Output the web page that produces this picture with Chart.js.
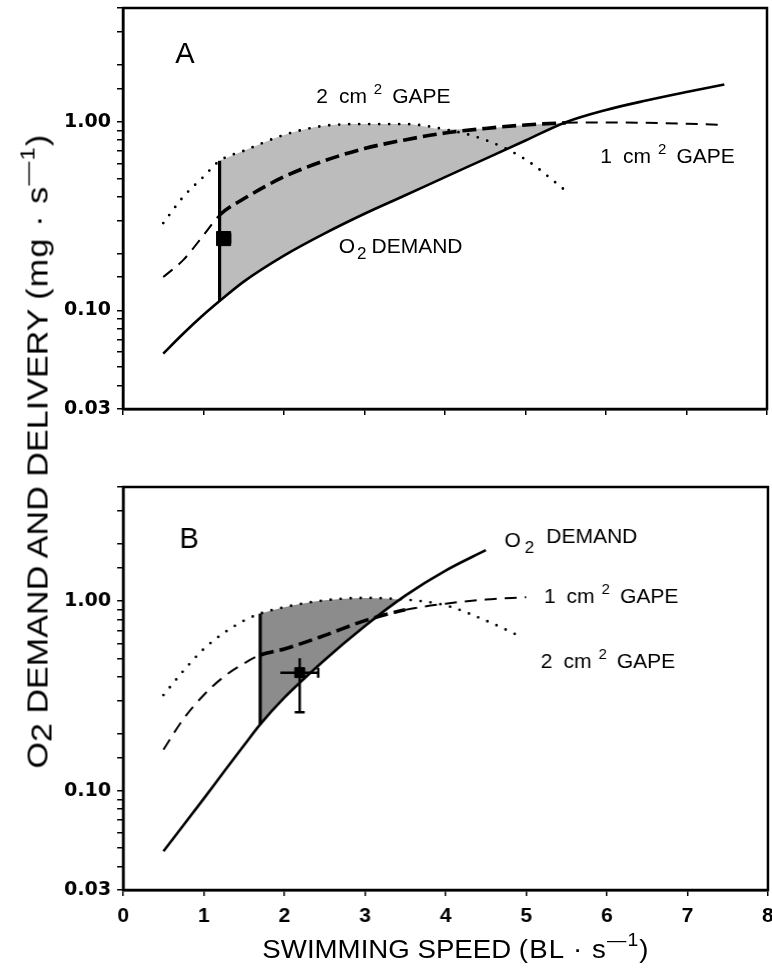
<!DOCTYPE html>
<html>
<head>
<meta charset="utf-8">
<script src="https://cdn.jsdelivr.net/npm/chart.js@4.4.0/dist/chart.umd.min.js"></script>
<style>
  body { margin: 0; background: #fff; width: 772px; height: 969px; position: relative; overflow: hidden;
         font-family: "Liberation Sans", Arial, sans-serif; color: #000; }
  .box { position: absolute; left: 0; }
  .title { position: absolute; white-space: nowrap; line-height: 1; transform-origin: 50% 50%; }
  .title sup { font-size: 70%; vertical-align: 0.65em; line-height: 0; }
  .title sub { font-size: 100%; vertical-align: -0.15em; line-height: 0; }
  .par { letter-spacing: 1px; }
  #ytitle { left: 38px; top: 451px; font-size: 29px; }
  #xtitle { left: 456px; top: 949px; font-size: 25px; }
</style>
</head>
<body>
<div id="boxA" class="box" style="top:0px; width:772px; height:440px"><canvas id="chartA"></canvas></div>
<div id="boxB" class="box" style="top:440px; width:772px; height:529px"><canvas id="chartB"></canvas></div>
<div id="ytitle" class="title">O<sub>2</sub> DEMAND AND DELIVERY <span class="par">(mg &middot; s<sup>&#8212;1</sup>)</span></div>
<div id="xtitle" class="title">SWIMMING SPEED <span class="par">(BL &middot; s<sup>&#8212;1</sup>)</span></div>
<script>
// panel A (swimming speed in BL/s, O2 in mg/s)
const speedA  = [0.5, 0.75, 1.0, 1.2, 1.5, 2.0, 2.5, 3.0, 3.5, 4.0, 4.5, 5.0, 5.5, 6.0, 6.5, 7.0, 7.47];
const demandA = [0.059, 0.0754, 0.0947, 0.112, 0.142, 0.195, 0.255, 0.325, 0.406, 0.508, 0.635, 0.794, 0.993, 1.153, 1.294, 1.435, 1.574];
const gape1A  = [0.15, 0.185, 0.25, 0.32, 0.39, 0.51, 0.62, 0.72, 0.80, 0.87, 0.92, 0.96, 0.985, 0.99, 0.985, 0.975, 0.96];
const gape2A  = [0.29, 0.40, 0.51, 0.62, 0.70, 0.85, 0.95, 0.97, 0.97, 0.91, 0.80, 0.63, 0.43, null, null, null, null];
const shadeA  = [1.2, 5.5];
const pointA  = [1.25, 0.24];
const errA    = [1.17, 1.33, 0.225, 0.26];

// panel B
const speedB  = [0.5, 0.75, 1.0, 1.25, 1.5, 1.7, 2.0, 2.5, 3.0, 3.5, 4.0, 4.5, 4.9, 5.0];
const demandB = [0.048, 0.066, 0.091, 0.126, 0.174, 0.224, 0.31, 0.49, 0.74, 1.07, 1.45, 1.86, null, null];
const gape1B  = [0.165, 0.24, 0.32, 0.40, 0.47, 0.52, 0.56, 0.66, 0.79, 0.90, 0.97, 1.02, 1.045, 1.05];
const gape2B  = [0.32, 0.43, 0.56, 0.68, 0.79, 0.86, 0.93, 1.01, 1.04, 1.02, 0.95, 0.79, 0.66, null];
const shadeB  = [1.7, 3.5];
const pointB  = [2.19, 0.42];
const errB    = [1.95, 2.42, 0.26, 0.5];

const yTickVals = [0.03, 0.1, 1];
const yTickText = ['0.03', '0.10', '1.00'];
const xMin = 0, xMax = 8, yMin = 0.03, yMax = 4;

function pts(xs, ys) {
  return xs.map((x, i) => ({x: x, y: ys[i]})).filter(p => p.y !== null);
}

// box round the plot area
const framePlugin = {
  id: 'frame',
  afterDraw(chart) {
    const a = chart.chartArea, ctx = chart.ctx;
    ctx.save();
    ctx.strokeStyle = '#000';
    ctx.lineWidth = 2.5;
    ctx.strokeRect(a.left, a.top, a.right - a.left, a.bottom - a.top);
    ctx.restore();
  }
};

// in-plot labels; a part is [text, kind] or [px, 'gap']
const notesPlugin = {
  id: 'notes',
  afterDatasetsDraw(chart, args, opts) {
    const ctx = chart.ctx, xs = chart.scales.x, ys = chart.scales.y;
    ctx.save();
    ctx.fillStyle = '#000';
    ctx.textBaseline = 'alphabetic';
    opts.items.forEach(n => {
      let px = xs.getPixelForValue(n.at[0]);
      const py = ys.getPixelForValue(n.at[1]);
      n.parts.forEach(([t, kind]) => {
        if (kind === 'gap') { px += t; return; }
        const size = kind === 'sup' ? 15 : kind === 'sub' ? 17 : n.size;
        const dy = kind === 'sup' ? -9 : kind === 'sub' ? 6 : kind === 'up' ? -4 : 0;
        ctx.font = size + 'px "Liberation Sans", Arial, sans-serif';
        ctx.fillText(t, px, py + dy);
        px += ctx.measureText(t).width;
      });
    });
    ctx.restore();
  }
};

const errPlugin = {
  id: 'errbars',
  afterDatasetsDraw(chart, args, opts) {
    const ctx = chart.ctx, xs = chart.scales.x, ys = chart.scales.y;
    const [x, y] = opts.point, [xl, xh, yl, yh] = opts.err;
    const px = xs.getPixelForValue(x), py = ys.getPixelForValue(y);
    ctx.save();
    ctx.strokeStyle = '#000';
    ctx.lineWidth = 2.5;
    ctx.beginPath();
    ctx.moveTo(px, ys.getPixelForValue(yl)); ctx.lineTo(px, ys.getPixelForValue(yh));
    ctx.moveTo(xs.getPixelForValue(xl), py); ctx.lineTo(xs.getPixelForValue(xh), py);
    ctx.moveTo(px - 5, ys.getPixelForValue(yl)); ctx.lineTo(px + 5, ys.getPixelForValue(yl));
    ctx.moveTo(xs.getPixelForValue(xh), py - 5); ctx.lineTo(xs.getPixelForValue(xh), py + 5);
    ctx.stroke();
    ctx.restore();
  }
};

function makePanel(id, p) {
  const lo = p.shade[0], hi = p.shade[1];
  const i0 = p.speed.indexOf(lo);
  const topEdge = p.speed.map((x, i) => ({x: x, y: Math.max(p.gape1[i] ?? 0, p.gape2[i] ?? 0)}))
    .filter(q => q.x >= lo && q.x <= hi);
  const bottomEdge = pts(p.speed, p.demand).filter(q => q.x >= lo && q.x <= hi);
  const inShade = c => c.p0.parsed.x >= lo && c.p0.parsed.x < hi;

  return new Chart(document.getElementById(id), {
    type: 'line',
    data: {
      datasets: [
        { label: 'O2 demand', data: pts(p.speed, p.demand), borderColor: '#000', borderWidth: 2.6,
          pointRadius: 0, cubicInterpolationMode: 'monotone' },
        { label: '1 cm2 gape', data: pts(p.speed, p.gape1), borderColor: '#000', borderWidth: 1.8,
          borderDash: [11, 8], pointRadius: 0, cubicInterpolationMode: 'monotone',
          segment: {
            borderWidth: c => inShade(c) ? 3.6 : 2,
            borderDash: c => inShade(c) ? [14, 6] : [12, 8]
          } },
        { label: '2 cm2 gape', data: pts(p.speed, p.gape2), borderColor: '#000', borderWidth: 2.8,
          borderDash: [0, 10], borderCapStyle: 'round', pointRadius: 0, cubicInterpolationMode: 'monotone' },
        { label: 'edge', data: [{x: lo, y: p.demand[i0]}, {x: lo, y: Math.max(p.gape1[i0], p.gape2[i0])}],
          borderColor: '#000', borderWidth: 3.2, pointRadius: 0 },
        { label: 'measured', data: [{x: p.point[0], y: p.point[1]}], showLine: false,
          pointStyle: 'rect', pointRadius: p.markSize, backgroundColor: '#000', borderColor: '#000' },
        { label: 'shade bottom', data: bottomEdge, borderWidth: 0, pointRadius: 0,
          cubicInterpolationMode: 'monotone', order: 11 },
        { label: 'shade top', data: topEdge, borderWidth: 0, pointRadius: 0, cubicInterpolationMode: 'monotone',
          fill: {target: 5, above: p.shadeColor, below: 'rgba(0,0,0,0)'}, order: 10 }
      ]
    },
    options: {
      responsive: true,
      maintainAspectRatio: false,
      animation: false,
      devicePixelRatio: 1,
      layout: { padding: {top: 30, right: 5, left: 0, bottom: 0} },
      plugins: {
        legend: {display: false},
        tooltip: {enabled: false},
        notes: {items: p.notes},
        errbars: {point: p.point, err: p.err}
      },
      scales: {
        x: {
          type: 'linear', min: xMin, max: xMax,
          afterFit: s => { s.height = p.axisH; },
          border: {display: true, color: '#000', width: 2.5},
          grid: {drawOnChartArea: false, drawTicks: true, tickLength: 6, color: '#000', lineWidth: 1.5},
          ticks: {
            stepSize: 1, padding: 8, color: '#000',
            font: {family: '"Liberation Sans", Arial, sans-serif', size: 21, weight: 'bold'},
            callback: v => p.xLabels ? String(v) : ''
          }
        },
        y: {
          type: 'logarithmic', min: yMin, max: yMax,
          afterFit: s => { s.width = 123; },
          border: {display: true, color: '#000', width: 2.5},
          grid: {drawOnChartArea: false, drawTicks: true, tickLength: 6, color: '#000', lineWidth: 1.5},
          ticks: {
            autoSkip: false, padding: 6, color: '#000',
            font: {family: '"DejaVu Sans", sans-serif', size: 19, weight: 'bold'},
            callback: v => {
              const k = yTickVals.findIndex(t => Math.abs(t - v) < 1e-6);
              return k >= 0 ? yTickText[k] : '';
            }
          }
        }
      }
    },
    plugins: [framePlugin, notesPlugin, errPlugin]
  });
}

// move/resize a chart's box so its plot area lands on the wanted page rectangle
function pin(chart, boxId, t) {
  const box = document.getElementById(boxId);
  for (let i = 0; i < 3; i++) {
    const a = chart.chartArea;
    const h = parseFloat(box.style.height), w = parseFloat(box.style.width);
    const top = t.top - a.top;
    box.style.top = top + 'px';
    box.style.height = (h + t.bottom - (top + a.bottom)) + 'px';
    box.style.width = (w + t.right - a.right) + 'px';
    chart.resize();
  }
}

const gape = (n) => [[n, ''], [11, 'gap'], ['cm', ''], [7, 'gap'], ['2', 'sup'], [10, 'gap'], ['GAPE', '']];

const chartA = makePanel('chartA', {
  speed: speedA, demand: demandA, gape1: gape1A, gape2: gape2A, shade: shadeA,
  point: pointA, err: errA, markSize: 10, shadeColor: '#bcbcbc',
  axisH: 31, xLabels: false,
  notes: [
    {at: [0.65, 2.04], size: 29, parts: [['A', '']]},
    {at: [2.4, 1.255], size: 21, parts: gape('2')},
    {at: [5.93, 0.60], size: 21, parts: gape('1')},
    {at: [2.68, 0.201], size: 21, parts: [['O', ''], [2, 'gap'], ['2', 'sub'], [5, 'gap'], ['DEMAND', '']]}
  ]
});

const chartB = makePanel('chartB', {
  speed: speedB, demand: demandB, gape1: gape1B, gape2: gape2B, shade: shadeB,
  point: pointB, err: errB, markSize: 7, shadeColor: '#8c8c8c',
  axisH: 79, xLabels: true,
  notes: [
    {at: [0.7, 1.9], size: 29, parts: [['B', '']]},
    {at: [4.73, 1.92], size: 21, parts: [['O', ''], [4, 'gap'], ['2', 'sub'], [12, 'gap'], ['DEMAND', 'up']]},
    {at: [5.22, 0.983], size: 21, parts: gape('1')},
    {at: [5.18, 0.445], size: 21, parts: gape('2')}
  ]
});

pin(chartA, 'boxA', {top: 8, bottom: 409, right: 767});
pin(chartB, 'boxB', {top: 487, bottom: 890, right: 767});

// centre the axis titles on their anchors and stretch them to the reference length
function fitTitle(id, length, rotate) {
  const el = document.getElementById(id);
  const k = length / el.offsetWidth;
  el.style.transform = 'translate(-50%, -50%)' + (rotate ? ' rotate(-90deg)' : '') + ' scaleX(' + k + ')';
}
fitTitle('ytitle', 635, true);
fitTitle('xtitle', 387, false);
</script>
</body>
</html>
